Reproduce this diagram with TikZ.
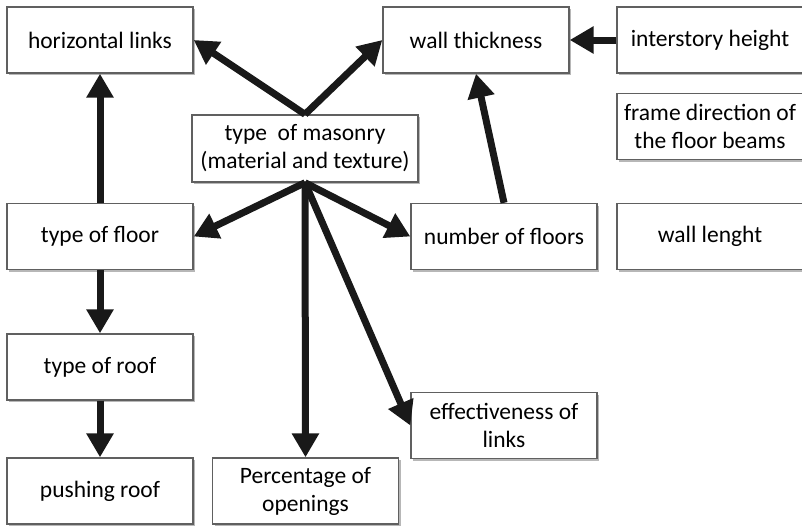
\documentclass[tikz,border=0pt]{standalone}
\usepackage{fontspec}
\setmainfont{Carlito}
\usepackage{tikz}
\usetikzlibrary{shapes,arrows.meta,positioning,shadows}

\begin{document}
\begin{tikzpicture}[x=1pt, y=-1pt,
    factbox/.style={rectangle, draw=gray!75!black, line width=1.4pt, fill=white, align=center,
        font=\fontsize{23.5}{28}\selectfont, minimum width=186pt, minimum height=66pt, inner sep=2pt,
        drop shadow={shadow xshift=2.2pt, shadow yshift=-2.2pt, opacity=0.7, fill=gray!80}},
    arrow/.style={-{Triangle[length=24pt, width=26pt]}, line width=7pt, black!90}]

    \useasboundingbox (0,0) rectangle (802,525);

    % Top row
    \node[factbox] (hlinks) at (100, 40) {horizontal links};
    \node[factbox] (wall) at (476, 40) {wall thickness};
    \node[factbox] (inter) at (710, 40) {interstory height};
    \node[factbox] (frame) at (710, 126.5) {frame direction of\\the floor beams};

    % Central node
    \node[factbox, minimum width=226pt, minimum height=67pt] (masonry) at (305, 148.5) {type\ \ of masonry\\(material and texture)};

    % Middle row
    \node[factbox] (floor) at (100, 236.5) {type of floor};
    \node[factbox] (nfloors) at (504, 236.5) {number of floors};
    \node[factbox] (wlen) at (710, 236.5) {wall lenght};

    % Lower rows
    \node[factbox] (roof) at (100, 367) {type of roof};
    \node[factbox] (eff) at (504, 425.5) {effectiveness of\\links};
    \node[factbox] (push) at (100, 491) {pushing roof};
    \node[factbox] (perc) at (305.5, 491) {Percentage of\\openings};

    % Arrows
    \draw[arrow] (masonry.north) -- (hlinks.east);
    \draw[arrow] (masonry.north) -- (wall.west);
    \draw[arrow] (inter.west) -- (wall.east);
    \draw[arrow] (nfloors.north) -- (wall.south);
    \draw[arrow] (floor.north) -- (hlinks.south);
    \draw[arrow] (masonry.south) -- (floor.east);
    \draw[arrow] (masonry.south) -- (nfloors.west);
    \draw[arrow] (masonry.south) -- (perc.north);
    \draw[arrow] (masonry.south) -- (eff.west);
    \draw[arrow] (floor.south) -- (roof.north);
    \draw[arrow] (roof.south) -- (push.north);

\end{tikzpicture}
\end{document}
